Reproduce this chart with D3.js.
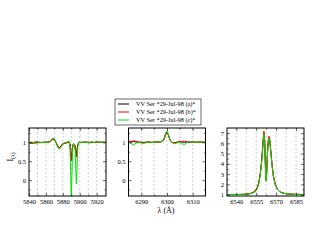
<!DOCTYPE html>
<html><head><meta charset="utf-8">
<script src="https://cdn.jsdelivr.net/npm/d3@7"></script>
<style>
html,body{margin:0;padding:0;background:#fff;}
svg{display:block;font-family:"Liberation Serif","Times New Roman",serif;}
</style></head>
<body>
<svg id="c" width="317" height="245"></svg>
<script>
// ---------- DATA ----------
const seriesNames = ["VV Ser *29-Jul-98 (a)*", "VV Ser *29-Jul-98 (b)*", "VV Ser *29-Jul-98 (c)*"];

// Panel 1: Na D region
const wlNaD = [5840,5843,5846,5849,5852,5855,5858,5861,5864,5866,5868,5870,5872,5874,5876,5878,5880,5882,5884,5886,5887.5,5888.5,5889.3,5890,5890.7,5891.5,5892.5,5893.5,5894.5,5895.3,5896,5896.7,5897.5,5898.5,5900,5902,5905,5908,5911,5914,5917,5920,5923,5926,5931];
const naD_a = [1.00,0.99,1.00,1.01,1.00,0.99,1.00,1.00,1.02,1.05,1.09,1.08,1.00,0.90,0.86,0.91,0.97,0.98,0.99,1.00,1.01,0.95,0.70,0.52,0.68,0.90,0.96,0.94,0.92,0.80,0.62,0.75,0.93,0.99,1.00,1.00,1.01,1.00,0.99,1.00,1.00,1.01,1.00,1.00,1.00];
const naD_b = [0.99,0.97,0.98,1.00,0.99,1.00,1.01,1.00,1.01,1.04,1.08,1.07,0.99,0.89,0.86,0.90,0.96,0.97,0.98,1.00,1.00,0.94,0.70,0.54,0.70,0.90,0.95,0.93,0.90,0.78,0.62,0.77,0.92,0.98,1.00,0.99,1.00,1.01,1.00,1.01,0.99,1.00,1.01,1.00,1.00];
const naD_c = [1.00,1.01,0.99,0.96,1.01,1.00,0.99,1.01,1.00,1.06,1.11,1.10,0.98,0.86,0.82,0.87,0.95,0.99,1.00,1.02,1.03,0.85,0.20,-0.50,0.10,0.75,0.97,0.90,0.78,0.30,-0.10,0.25,0.82,0.98,1.01,1.00,0.99,1.01,0.98,1.02,0.99,1.03,0.99,1.01,1.00];

// Panel 2: [O I] 6300 region
const wlOI = [6285,6286,6287,6288,6289,6290,6291,6292,6293,6294,6295,6296,6297,6298,6298.8,6299.5,6300,6300.5,6301.2,6302,6303,6304,6305,6306,6306.8,6307.5,6308.5,6310,6311.5,6313,6315];
const oi_a = [1.02,1.01,1.02,1.01,1.00,1.00,0.99,1.00,1.01,1.00,1.00,1.01,1.01,1.02,1.08,1.22,1.27,1.20,1.06,1.00,0.99,1.00,1.01,1.01,1.00,1.01,1.00,1.01,1.00,1.01,1.00];
const oi_b = [1.02,1.03,1.04,1.03,1.01,1.00,1.00,1.01,1.01,1.00,1.01,1.00,1.01,1.02,1.07,1.21,1.26,1.19,1.05,1.00,0.99,1.01,1.02,1.03,1.03,1.02,1.01,1.00,1.01,1.00,1.00];
const oi_c = [1.01,0.97,0.93,0.98,1.00,0.98,0.97,1.00,1.01,0.99,1.00,1.01,1.02,1.03,1.10,1.25,1.30,1.22,1.07,0.99,0.96,0.99,1.00,0.96,0.94,0.98,1.01,1.01,1.00,1.01,1.00];

// Panel 3: H-alpha region
const wlHa = [6533,6537,6541,6545,6548,6550,6552,6554,6555.5,6556.8,6558,6559,6559.8,6560.4,6560.8,6561.3,6561.8,6562.3,6562.8,6563.4,6564,6564.6,6565.2,6566,6567,6568,6569.3,6571,6573,6576,6580,6584,6588,6591];
const ha_a = [1.00,1.01,1.01,1.02,1.05,1.08,1.15,1.28,1.55,2.00,2.90,4.10,5.40,6.50,7.00,6.40,4.30,2.40,2.80,4.80,6.10,6.55,6.30,5.20,3.80,2.75,2.00,1.50,1.25,1.12,1.05,1.02,1.01,1.00];
const ha_b = [1.00,1.00,1.01,1.02,1.05,1.09,1.18,1.35,1.65,2.15,3.05,4.25,5.55,6.70,7.20,6.55,4.40,2.45,2.90,4.90,6.25,6.70,6.45,5.35,3.90,2.85,2.05,1.52,1.26,1.12,1.05,1.03,1.01,1.00];
const ha_c = [1.00,1.02,1.00,1.03,1.04,1.07,1.14,1.25,1.50,1.95,2.85,4.00,5.30,6.40,6.95,6.45,4.20,2.30,2.70,4.70,6.00,6.50,6.25,5.10,3.70,2.70,1.95,1.48,1.24,1.11,1.06,1.01,1.02,1.00];

// Tick labels
const ticksNaD = [5840,5860,5880,5900,5920];
const gridNaD  = [5850,5860,5870,5880,5890,5900,5910,5920];
const ticksOI  = [6290,6300,6310];
const gridOI   = [6290,6295,6300,6305,6310];
const ticksHa  = [6540,6555,6570,6585];
const gridHa   = [6540,6547.5,6555,6562.5,6570,6577.5,6585];
const yTicksNorm = [0,0.5,1];
const yMinorNorm = [-0.25,0.25,0.75,1.25];
const yTicksHa = [1,2,3,4,5,6,7];
const yMinorHa = [1.5,2.5,3.5,4.5,5.5,6.5];

// ---------- LAYOUT ----------
const svg = d3.select("#c");
const colors = ["#000000", "#ff0000", "#00e000"];
const topY = 128, H = 68, W = 77;

const panels = [
  {left:29,   xd:[5840,5931], yd:[-0.42,1.38], wl:wlNaD, s:[naD_a,naD_b,naD_c], ticks:ticksNaD, grid:gridNaD, yt:yTicksNorm, ym:yMinorNorm},
  {left:128.5,xd:[6285,6315], yd:[-0.42,1.38], wl:wlOI,  s:[oi_a,oi_b,oi_c],    ticks:ticksOI,  grid:gridOI,  yt:yTicksNorm, ym:yMinorNorm},
  {left:227,  xd:[6533,6591], yd:[0.86,7.5],   wl:wlHa,  s:[ha_a,ha_b,ha_c],    ticks:ticksHa,  grid:gridHa,  yt:yTicksHa,   ym:yMinorHa}
];

panels.forEach((p, i) => {
  const x = d3.scaleLinear().domain(p.xd).range([p.left, p.left + W]);
  const y = d3.scaleLinear().domain(p.yd).range([topY + H, topY]);
  const g = svg.append("g");
  const cid = "clip" + i;
  svg.append("clipPath").attr("id", cid).append("rect")
    .attr("x", p.left).attr("y", topY).attr("width", W).attr("height", H);

  // gridlines
  g.selectAll("line.grid").data(p.grid).enter().append("line")
    .attr("x1", d => x(d)).attr("x2", d => x(d))
    .attr("y1", topY).attr("y2", topY + H)
    .attr("stroke", "#aaaaaa").attr("stroke-width", 0.6)
    .attr("stroke-dasharray", "2,2");

  // series
  const line = d3.line().x((d, j) => x(p.wl[j])).y(d => y(d));
  p.s.forEach((vals, k) => {
    g.append("path").datum(vals)
      .attr("d", line)
      .attr("fill", "none")
      .attr("stroke", colors[k])
      .attr("stroke-width", 1)
      .attr("stroke-linejoin", "round")
      .attr("clip-path", `url(#${cid})`);
  });

  // axes
  const minorX = p.grid.filter(v => p.ticks.indexOf(v) < 0);
  g.append("g").attr("transform", `translate(0,${topY + H})`)
    .call(d3.axisBottom(x).tickValues(p.ticks).tickFormat(d3.format("")).tickSize(-3).tickPadding(3));
  g.append("g").attr("transform", `translate(0,${topY + H})`)
    .call(d3.axisBottom(x).tickValues(minorX).tickFormat("").tickSize(-1.5));
  g.append("g").attr("transform", `translate(0,${topY})`)
    .call(d3.axisTop(x).tickValues(p.ticks).tickFormat("").tickSize(-3));
  g.append("g").attr("transform", `translate(0,${topY})`)
    .call(d3.axisTop(x).tickValues(minorX).tickFormat("").tickSize(-1.5));
  g.append("g").attr("transform", `translate(${p.left},0)`)
    .call(d3.axisLeft(y).tickValues(p.yt).tickFormat(d3.format("")).tickSize(-3).tickPadding(3));
  g.append("g").attr("transform", `translate(${p.left},0)`)
    .call(d3.axisLeft(y).tickValues(p.ym).tickFormat("").tickSize(-1.5));
  g.append("g").attr("transform", `translate(${p.left + W},0)`)
    .call(d3.axisRight(y).tickValues(p.yt).tickFormat("").tickSize(-3));
  g.append("g").attr("transform", `translate(${p.left + W},0)`)
    .call(d3.axisRight(y).tickValues(p.ym).tickFormat("").tickSize(-1.5));

  g.selectAll(".domain").remove();
  g.selectAll(".tick line").attr("stroke", "#000").attr("stroke-width", 0.6);
  g.selectAll(".tick text").attr("font-family", "Liberation Serif").attr("font-size", 6.5).attr("fill", "#000");

  // frame
  g.append("rect").attr("x", p.left).attr("y", topY).attr("width", W).attr("height", H)
    .attr("fill", "none").attr("stroke", "#000").attr("stroke-width", 1);
});

// axis titles
svg.append("text").attr("x", 166).attr("y", 213).attr("text-anchor", "middle")
  .attr("font-size", 8).attr("font-family", "Liberation Serif").text("λ (Å)");
const yl = svg.append("text").attr("transform", "translate(13,157) rotate(-90)")
  .attr("text-anchor", "middle").attr("font-size", 8).attr("font-family", "Liberation Serif");
yl.append("tspan").text("I");
yl.append("tspan").attr("font-size", 5.5).attr("dy", 2).text("(λ)");

// legend
const lg = svg.append("g");
lg.append("rect").attr("x", 115).attr("y", 99).attr("width", 86).attr("height", 26)
  .attr("fill", "#fff").attr("stroke", "#000").attr("stroke-width", 0.6);
seriesNames.forEach((name, k) => {
  const yy = 104 + k * 8;
  lg.append("line").attr("x1", 118).attr("x2", 129).attr("y1", yy).attr("y2", yy)
    .attr("stroke", colors[k]).attr("stroke-width", 1);
  lg.append("text").attr("x", 136).attr("y", yy + 2.2).attr("font-size", 6.3)
    .attr("font-family", "Liberation Serif").text(name);
});
</script>
</body></html>
